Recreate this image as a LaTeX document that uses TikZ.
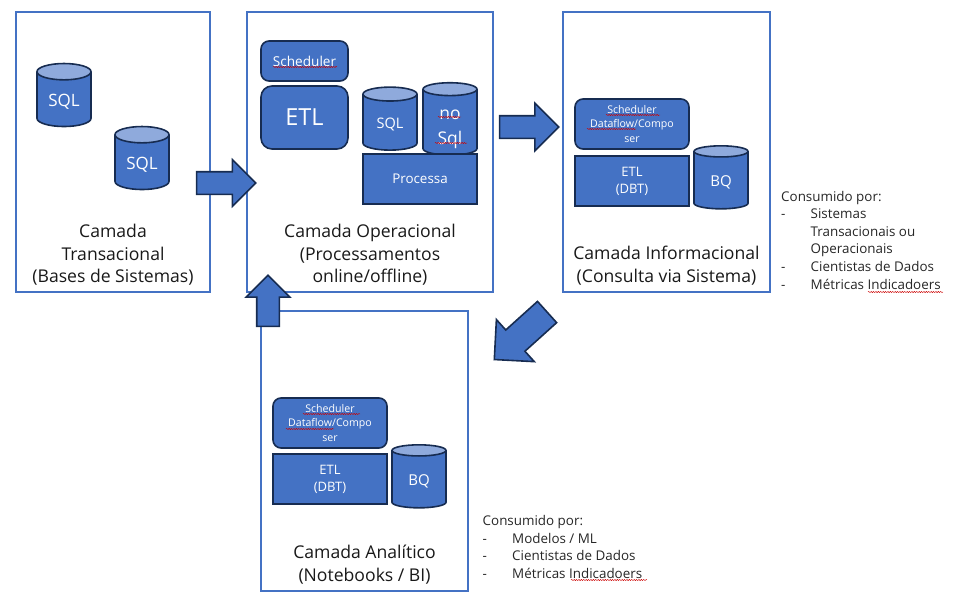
\documentclass[tikz,border=0pt]{standalone}
\usepackage{fontspec}
\setmainfont{Open Sans}
\usetikzlibrary{shapes.geometric, shapes.arrows, decorations.pathmorphing}
\definecolor{boxblue}{HTML}{4472C4}
\definecolor{boxedge}{HTML}{172C51}
\definecolor{basetop}{HTML}{8FAADC}
\newcommand{\fsize}[2]{\fontsize{#1}{#2}\selectfont}
\newcommand{\dashitem}[1]{\hbox to 29.5pt{-\hfil}#1}
\tikzstyle{layer box}=[rectangle,draw=boxblue,line width=1.6pt,inner sep=0pt]
\tikzstyle{layer label}=[align=center,inner sep=0pt,text=black!90,font=\fsize{17.6}{22.6}]
\tikzstyle{consumer list}=[align=left,anchor=west,inner sep=0pt,text=black!85,font=\fsize{13.4}{17.6}]
\tikzstyle{solid part}=[draw=boxedge,line width=1.6pt,inner sep=0pt,text=white]
\tikzstyle{task box}=[solid part,fill=boxblue,rectangle]
\tikzstyle{round task}=[task box,rounded corners=8pt]
\tikzstyle{base}=[solid part,cylinder,shape border rotate=90,aspect=0.52,minimum width=54pt,minimum height=63pt,cylinder uses custom fill,cylinder body fill=boxblue,cylinder end fill=basetop]
\tikzstyle{flow arrow}=[solid part,fill=boxblue,single arrow,single arrow tip angle=90]
\tikzstyle{spell mark}=[draw=red!80!black,line width=0.45pt,decorate,decoration={snake,amplitude=0.6pt,segment length=2.4pt}]
\begin{document}
\begin{tikzpicture}[x=1pt,y=-1pt]
		\useasboundingbox (0,0) rectangle (965,610);
		\node[layer box, minimum width=194pt, minimum height=280pt] (T) at (113,152) {};
		\node[layer box, minimum width=246pt, minimum height=280pt] (O) at (370,152) {};
		\node[layer box, minimum width=207pt, minimum height=280pt] (I) at (666.5,152) {};
		\node[layer box, minimum width=207pt, minimum height=280pt] (A) at (364.5,451) {};

		\node[base, text height=16pt, font=\fsize{17}{20}] (T-1) at (64,99.5) {SQL};
		\node[base, text height=16pt, font=\fsize{17}{20}] (T-2) at (142,162.5) {SQL};
		\node[layer label] (T-label) at (113,255) {Camada\\Transacional\\(Bases de Sistemas)};

		\node[round task, minimum width=87pt, minimum height=40pt, font=\fsize{13.6}{16}] (O-sched) at (304.5,61) {Scheduler};
		\node[round task, rounded corners=11pt, minimum width=87pt, minimum height=63pt, font=\fsize{23.5}{28}] (O-etl) at (304.5,117.5) {ETL};
		\node[base, text height=14.5pt, font=\fsize{14.5}{18}] (O-sql) at (390,122.5) {SQL};
		\node[base, align=center, font=\fsize{17.5}{25}] (O-nosql) at (450,122.5) {\rule{0pt}{23pt}no\\Sql};
		\node[task box, minimum width=114pt, minimum height=50pt, font=\fsize{13.4}{16}] (O-proc) at (420,179) {Processa};
		\node[layer label] (O-label) at (370,255) {Camada Operacional\\(Processamentos\\online/offline)};

		\node[round task, align=center, minimum width=114pt, minimum height=50pt, font=\fsize{10.6}{14.4}] (I-sched) at (632,124) {Scheduler\\Dataflow/Compo\\ser};
		\node[task box, align=center, minimum width=114pt, minimum height=50pt, font=\fsize{13}{17}] (I-etl) at (632,181) {ETL\\(DBT)};
		\node[base, text height=15pt, font=\fsize{15}{18}] (I-bq) at (721,180.5) {BQ};
		\node[layer label] (I-label) at (666.5,265.5) {Camada Informacional\\(Consulta via Sistema)};

		\node[round task, align=center, minimum width=114pt, minimum height=50pt, font=\fsize{10.6}{14.4}] (A-sched) at (330,423) {Scheduler\\Dataflow/Compo\\ser};
		\node[task box, align=center, minimum width=114pt, minimum height=50pt, font=\fsize{13}{17}] (A-etl) at (330,479) {ETL\\(DBT)};
		\node[base, text height=15pt, font=\fsize{15}{18}] (A-bq) at (419,479.5) {BQ};
		\node[layer label] (A-label) at (364.5,564.5) {Camada Analítico\\(Notebooks / BI)};

		\node[flow arrow, inner sep=10.5pt, minimum width=45pt, minimum height=59pt, single arrow head extend=12pt] (T-O) at (220.5,183) {};
		\node[flow arrow, inner sep=10.5pt, minimum width=46pt, minimum height=59pt, single arrow head extend=12.5pt] (O-I) at (523.5,127) {};
		\node[flow arrow, inner sep=13.5pt, rotate=-138, minimum width=55pt, minimum height=71pt, single arrow head extend=14pt] (I-A) at (526,331) {};
		\node[flow arrow, inner sep=10.5pt, rotate=90, minimum width=42pt, minimum height=51pt, single arrow head extend=10.5pt] (A-O) at (268,306.5) {};

		\node[consumer list] (I-use) at (781,240) {Consumido por:\\\dashitem{Sistemas}\\\hspace*{29.5pt}Transacionais ou\\\hspace*{29.5pt}Operacionais\\\dashitem{Cientistas de Dados}\\\dashitem{Métricas Indicadoers}};
		\node[consumer list] (A-use) at (482.5,547) {Consumido por:\\\dashitem{Modelos / ML}\\\dashitem{Cientistas de Dados}\\\dashitem{Métricas Indicadoers}};

		\foreach \xa/\xb/\ya in {273/337/67, 438/461/117, 435/467/143, 606/660/115, 587/636/129, 868/943/292, 303/360/414, 286/334/429, 571/647/580}
			\path[spell mark] (\xa,\ya) -- (\xb,\ya);
	\end{tikzpicture}
\end{document}
